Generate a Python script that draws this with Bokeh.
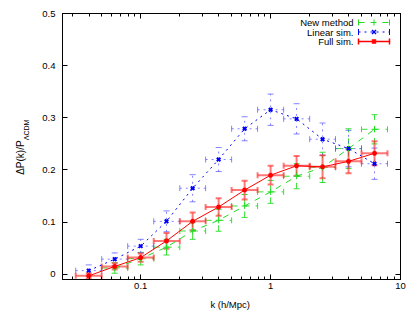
from bokeh.plotting import figure
from bokeh.models import (ColumnDataSource, Whisker, TeeHead, FixedTicker, LogAxis,
                          LinearAxis, CustomJSTickFormatter, Label, Arrow, Range1d)
from bokeh.embed import file_html
from bokeh.resources import INLINE

# ---------------- data ----------------
k_all = [0.0398, 0.0631, 0.1, 0.158, 0.251, 0.398, 0.631, 1.0, 1.585, 2.512, 3.981, 6.31]
k_lo_all = [0.0316, 0.0501, 0.0794, 0.126, 0.2, 0.316, 0.501, 0.794, 1.26, 2.0, 3.16, 5.01]
k_hi_all = [0.0501, 0.0794, 0.126, 0.2, 0.316, 0.501, 0.794, 1.26, 2.0, 3.16, 5.01, 7.94]

linear_val = [0.007, 0.029, 0.054, 0.1015, 0.165, 0.220, 0.279, 0.3155, 0.298, 0.259, 0.241, 0.212]
linear_err = [0.011, 0.012, 0.013, 0.020, 0.026, 0.023, 0.023, 0.030, 0.029, 0.031, 0.035, 0.030]

full_val = [-0.003, 0.015, 0.032, 0.064, 0.1015, 0.129, 0.1615, 0.190, 0.208, 0.206, 0.2165, 0.232]
full_err = [0.005, 0.006, 0.008, 0.015, 0.017, 0.017, 0.018, 0.018, 0.019, 0.022, 0.023, 0.023]

new_k = [0.0631, 0.1, 0.158, 0.251, 0.398, 0.631, 1.0, 1.585, 2.512, 3.981, 6.31]
new_k_lo = [0.0501, 0.0794, 0.126, 0.2, 0.316, 0.501, 0.794, 1.26, 2.0, 3.16, 5.01]
new_k_hi = [0.0794, 0.126, 0.2, 0.316, 0.501, 0.794, 1.26, 2.0, 3.16, 5.01, 7.94]
new_val = [0.012, 0.030, 0.052, 0.083, 0.1035, 0.131, 0.158, 0.188, 0.205, 0.241, 0.278]
new_err = [0.010, 0.012, 0.015, 0.016, 0.021, 0.022, 0.022, 0.024, 0.029, 0.038, 0.028]

x_major_ticks = [0.1, 1, 10]
x_minor_ticks = [m * d for d in (0.01, 0.1, 1) for m in range(2, 10)]
y_ticks = [0, 0.1, 0.2, 0.3, 0.4, 0.5]
y_tick_labels = {0: "0", 0.1: "0.1", 0.2: "0.2", 0.3: "0.3", 0.4: "0.4", 0.5: "0.5"}

x_title = "k  (h/Mpc)"
y_title_main = "ΔP(k)/P"
y_title_sub = "ΛCDM"
series_names = ["New method", "Linear sim.", "Full sim."]

FONT = "Liberation Sans"
GREEN = "#22dd22"
BLUE = "#0000ff"
RED = "#ff0000"
NBSP = "\u00a0"

p = figure(width=415, height=312, x_axis_type="log", output_backend="svg",
           toolbar_location=None, x_range=Range1d(0.025, 10), y_range=Range1d(-0.01, 0.5),
           min_border_left=62, min_border_right=15, min_border_top=13, min_border_bottom=33)
p.grid.visible = False
p.outline_line_color = "black"
p.outline_line_width = 1
p.background_fill_color = "white"

xt = FixedTicker(ticks=x_major_ticks, minor_ticks=x_minor_ticks)
yt = FixedTicker(ticks=y_ticks, minor_ticks=[])

xa = p.xaxis[0]
xa.ticker = xt
xa.formatter = CustomJSTickFormatter(code="return tick.toString()")
xa.axis_label = x_title
ya = p.yaxis[0]
ya.ticker = yt
ya.major_label_overrides = y_tick_labels

for ax in (xa, ya):
    ax.major_tick_in = 5
    ax.major_tick_out = 0
    ax.minor_tick_in = 3
    ax.minor_tick_out = 0
    ax.axis_line_color = "black"
    ax.major_tick_line_color = "black"
    ax.minor_tick_line_color = "black"
    ax.major_label_text_font = FONT
    ax.major_label_text_font_size = "9.5px"
    ax.major_label_text_color = "black"
    ax.axis_label_text_font = FONT
    ax.axis_label_text_font_size = "9.5px"
    ax.axis_label_text_font_style = "normal"
    ax.axis_label_text_color = "black"
xa.major_label_standoff = 3
xa.axis_label_standoff = 7
ya.major_label_standoff = 7

# subscript part of the y title sits on the inner axis (shifted up with padding)
ya.axis_label = NBSP * 17 + y_title_sub
ya.axis_label_text_font_size = "7px"
ya.axis_label_standoff = 9

empty = CustomJSTickFormatter(code="return ''")
top = LogAxis(ticker=xt, formatter=empty, major_tick_in=5, major_tick_out=0,
              minor_tick_in=3, minor_tick_out=0, major_label_standoff=0,
              major_label_text_font_size="0px", axis_line_color="black")
right = LinearAxis(ticker=yt, formatter=empty, major_tick_in=5, major_tick_out=0,
                   minor_tick_in=0, minor_tick_out=0, major_label_standoff=0,
                   major_label_text_font_size="0px", axis_line_color="black")
p.add_layout(top, "above")
p.add_layout(right, "right")

# main part of the y title on an outer, tick-less axis (shifted down with padding)
outer = LinearAxis(ticker=FixedTicker(ticks=[], minor_ticks=[]), formatter=empty,
                   major_tick_in=0, major_tick_out=0, minor_tick_in=0, minor_tick_out=0,
                   major_label_standoff=0, major_label_text_font_size="0px",
                   axis_line_color=None, axis_label=y_title_main + NBSP * 8,
                   axis_label_standoff=-5, axis_label_text_font=FONT,
                   axis_label_text_font_size="10px", axis_label_text_font_style="normal",
                   axis_label_text_color="black")
p.add_layout(outer, "left")


def add_series(kc, klo, khi, val, err, color, dash, bar_color, bar_alpha, bar_width,
               marker, msize, mwidth, line_width):
    src = ColumnDataSource(dict(
        k=kc, klo=klo, khi=khi, y=val,
        ylo=[v - e for v, e in zip(val, err)],
        yhi=[v + e for v, e in zip(val, err)]))
    p.line("k", "y", source=src, line_color=color, line_dash=dash, line_width=line_width)
    for dim, base, lo, hi in (("height", "k", "ylo", "yhi"), ("width", "y", "klo", "khi")):
        w = Whisker(source=src, base=base, lower=lo, upper=hi, dimension=dim,
                    line_color=bar_color, line_alpha=bar_alpha, line_width=bar_width,
                    line_dash=dash,
                    lower_head=TeeHead(size=6, line_color=bar_color, line_alpha=bar_alpha,
                                       line_width=bar_width),
                    upper_head=TeeHead(size=6, line_color=bar_color, line_alpha=bar_alpha,
                                       line_width=bar_width))
        p.add_layout(w)
    p.scatter("k", "y", source=src, marker=marker, size=msize, line_color=color,
              line_width=mwidth, fill_color=color)


add_series(new_k, new_k_lo, new_k_hi, new_val, new_err, GREEN, "dashed", GREEN, 0.9, 1,
           "cross", 6, 1, 1)
add_series(k_all, k_lo_all, k_hi_all, linear_val, linear_err, BLUE, "dotted", "#5050ff", 0.7, 1,
           "x", 5, 2, 1)
add_series(k_all, k_lo_all, k_hi_all, full_val, full_err, RED, "solid", "#ff3030", 0.65, 2,
           "asterisk", 5, 1.5, 1)

# ---------------- legend (gnuplot style: text left, sample right) ----------------
leg_rows = [257, 247.5, 238]
leg_styles = [(GREEN, "dashed", 1, "cross"), (BLUE, "dotted", 1, "x"), (RED, "solid", 1.5, "asterisk")]
x_text, x0, x1 = 291, 296, 327
xm = (x0 + x1) / 2
for name, yy, (col, dash, lw, mk) in zip(series_names, leg_rows, leg_styles):
    p.add_layout(Label(x=x_text, y=yy, x_units="screen", y_units="screen", text=name,
                       text_align="right", text_baseline="middle", text_font=FONT,
                       text_font_size="9.5px", text_color="black"))
    p.add_layout(Arrow(x_start=x0, y_start=yy, x_end=x1, y_end=yy,
                       start_units="screen", end_units="screen",
                       line_color=col, line_dash=dash, line_width=lw,
                       start=TeeHead(size=6, line_color=col, line_width=lw),
                       end=TeeHead(size=6, line_color=col, line_width=lw)))
    if mk == "cross":
        segs = [(0, -3, 0, 3)]
    elif mk == "x":
        segs = [(-2, -2, 2, 2), (-2, 2, 2, -2)]
    else:
        segs = [(-2, -2, 2, 2), (-2, 2, 2, -2), (0, -2.5, 0, 2.5), (-2.5, 0, 2.5, 0)]
    for (ax0, ay0, ax1, ay1) in segs:
        p.add_layout(Arrow(x_start=xm + ax0, y_start=yy + ay0, x_end=xm + ax1, y_end=yy + ay1,
                           start_units="screen", end_units="screen", end=None,
                           line_color=col, line_width=1.5 if mk != "cross" else 1))

open("out.html", "w").write(file_html(p, INLINE))
